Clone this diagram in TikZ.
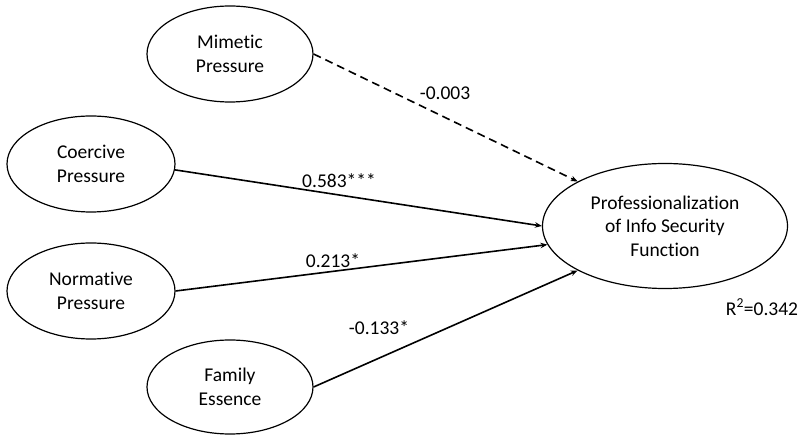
\documentclass[tikz,border=0pt]{standalone}
\usepackage{fontspec}
\setmainfont{Carlito}
\usetikzlibrary{shapes.geometric,arrows.meta}
\begin{document}
\begin{tikzpicture}[x=1pt,y=-1pt,
  latent/.style={ellipse,draw=black,line width=1.2pt,inner sep=0pt,align=center,font=\fontsize{19.5}{23.5}\selectfont},
  pathline/.style={line width=1.6pt,-{Stealth[length=7pt,width=5.5pt]}},
  coef/.style={font=\fontsize{19.5}{23.5}\selectfont,inner sep=0pt}]
\useasboundingbox (0,0) rectangle (807,435);
\node[latent,minimum width=166pt,minimum height=96pt] (mim) at (230,54) {Mimet\kern0pt ic\\Pressure};
\node[latent,minimum width=168pt,minimum height=96pt] (coe) at (91,164) {Coercive\\Pressure};
\node[latent,minimum width=168pt,minimum height=96pt] (nor) at (91,291) {Normat\kern0pt ive\\Pressure};
\node[latent,minimum width=166pt,minimum height=94pt] (fam) at (230,387) {Family\\Essence};
\node[latent,minimum width=245pt,minimum height=125pt] (pro) at (665,226) {Professionalizat\kern0pt ion\\of Info Security\\Funct\kern0pt ion};
\draw[pathline,dashed,dash pattern=on 8pt off 5pt] (mim.east) -- (pro.153);
\draw[pathline] (coe.-4) -- (pro.180);
\draw[pathline] (nor.east) -- (pro.189);
\draw[pathline] (fam.east) -- (pro.207);
\node[coef] (l1) at (445,93) {-0.003};
\node[coef] (l2) at (339,181) {0.583***};
\node[coef] (l3) at (333,261) {0.213*};
\node[coef] (l4) at (379,328) {-0.133*};
\node[coef] (r2) at (762,307) {R\textsuperscript{2}=0.342};
\end{tikzpicture}
\end{document}
